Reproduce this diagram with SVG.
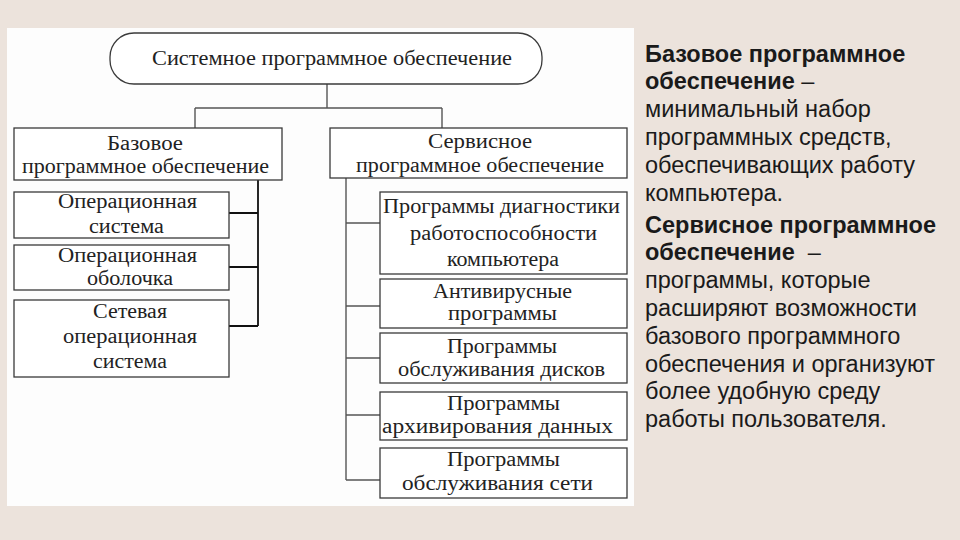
<svg xmlns="http://www.w3.org/2000/svg" width="960" height="540" viewBox="0 0 960 540">
<style>
.box{fill:#fff;stroke:#3a3a3a;stroke-width:1.3}
.t{font-family:"Liberation Serif","Times New Roman",serif;font-size:20.5px;fill:#222}
.c{fill:none;stroke:#555;stroke-width:1.4}
.ck{fill:none;stroke:#111;stroke-width:1.8}
.r{font-family:"Liberation Sans",Arial,sans-serif;font-size:23.5px;fill:#1a1a1a}
.b{font-weight:bold}
</style>
<rect x="0" y="0" width="960" height="540" fill="#ece3dc"/>
<rect x="7" y="28" width="627" height="478" fill="#fdfdfd"/>
<g id="connectors">
<path class="c" d="M327 84 V108 M195 108 H442 M195 108 V128 M442 108 V128"/>
<path class="ck" d="M258 180 V326 M229 213 H258 M229 267 H258 M229 326 H258"/>
<path class="c" d="M346 178 V480 M346 223 H380 M346 306 H380 M346 358 H380 M346 415 H380 M346 480 H380"/>
</g>
<g id="root">
<rect class="box" x="110" y="33" width="432" height="51" rx="24"/>
<text class="t" x="152" y="65" textLength="360" lengthAdjust="spacingAndGlyphs">Системное программное обеспечение</text>
</g>
<g id="base">
<rect class="box" x="14" y="128" width="268" height="52"/>
<text class="t" x="107" y="150" textLength="76" lengthAdjust="spacingAndGlyphs">Базовое</text>
<text class="t" x="22" y="173" textLength="247" lengthAdjust="spacingAndGlyphs">программное обеспечение</text>
</g>
<g id="service">
<rect class="box" x="330" y="128" width="297" height="50"/>
<text class="t" x="428" y="148" textLength="104" lengthAdjust="spacingAndGlyphs">Сервисное</text>
<text class="t" x="356" y="172" textLength="248" lengthAdjust="spacingAndGlyphs">программное обеспечение</text>
</g>
<g id="os">
<rect class="box" x="14" y="192" width="215" height="46"/>
<text class="t" x="58" y="208" textLength="139" lengthAdjust="spacingAndGlyphs">Операционная</text>
<text class="t" x="89" y="233" textLength="75" lengthAdjust="spacingAndGlyphs">система</text>
</g>
<g id="shell">
<rect class="box" x="14" y="245" width="215" height="45"/>
<text class="t" x="58" y="262" textLength="139" lengthAdjust="spacingAndGlyphs">Операционная</text>
<text class="t" x="87" y="285" textLength="86" lengthAdjust="spacingAndGlyphs">оболочка</text>
</g>
<g id="netos">
<rect class="box" x="14" y="300" width="215" height="77"/>
<text class="t" x="93" y="318" textLength="74" lengthAdjust="spacingAndGlyphs">Сетевая</text>
<text class="t" x="63" y="343" textLength="134" lengthAdjust="spacingAndGlyphs">операционная</text>
<text class="t" x="93" y="368" textLength="74" lengthAdjust="spacingAndGlyphs">система</text>
</g>
<g id="diag">
<rect class="box" x="380" y="192" width="247" height="82"/>
<text class="t" x="383" y="213" textLength="237" lengthAdjust="spacingAndGlyphs">Программы диагностики</text>
<text class="t" x="410" y="240" textLength="187" lengthAdjust="spacingAndGlyphs">работоспособности</text>
<text class="t" x="447" y="266" textLength="112" lengthAdjust="spacingAndGlyphs">компьютера</text>
</g>
<g id="antivirus">
<rect class="box" x="380" y="279" width="247" height="49"/>
<text class="t" x="433" y="298" textLength="139" lengthAdjust="spacingAndGlyphs">Антивирусные</text>
<text class="t" x="448" y="320" textLength="109" lengthAdjust="spacingAndGlyphs">программы</text>
</g>
<g id="disks">
<rect class="box" x="380" y="333" width="247" height="50"/>
<text class="t" x="447" y="353" textLength="110" lengthAdjust="spacingAndGlyphs">Программы</text>
<text class="t" x="398" y="376" textLength="207" lengthAdjust="spacingAndGlyphs">обслуживания дисков</text>
</g>
<g id="archive">
<rect class="box" x="380" y="392" width="247" height="48"/>
<text class="t" x="447" y="410" textLength="113" lengthAdjust="spacingAndGlyphs">Программы</text>
<text class="t" x="382" y="433" textLength="231" lengthAdjust="spacingAndGlyphs">архивирования данных</text>
</g>
<g id="network">
<rect class="box" x="380" y="448" width="247" height="50"/>
<text class="t" x="447" y="466" textLength="113" lengthAdjust="spacingAndGlyphs">Программы</text>
<text class="t" x="402" y="490" textLength="191" lengthAdjust="spacingAndGlyphs">обслуживания сети</text>
</g>
<g id="description">
<text class="r b" x="645" y="62">Базовое программное</text>
<text class="r" x="645" y="89"><tspan class="b">обеспечение</tspan> –</text>
<text class="r" x="645" y="117">минимальный набор</text>
<text class="r" x="645" y="145">программных средств,</text>
<text class="r" x="645" y="173">обеспечивающих работу</text>
<text class="r" x="645" y="201">компьютера.</text>
<text class="r b" x="645" y="233">Сервисное программное</text>
<text class="r" x="645" y="260" xml:space="preserve"><tspan class="b">обеспечение</tspan>  –</text>
<text class="r" x="645" y="288">программы, которые</text>
<text class="r" x="645" y="316">расширяют возможности</text>
<text class="r" x="645" y="344">базового программного</text>
<text class="r" x="645" y="372">обеспечения и организуют</text>
<text class="r" x="645" y="399">более удобную среду</text>
<text class="r" x="645" y="427">работы пользователя.</text>
</g>
</svg>
